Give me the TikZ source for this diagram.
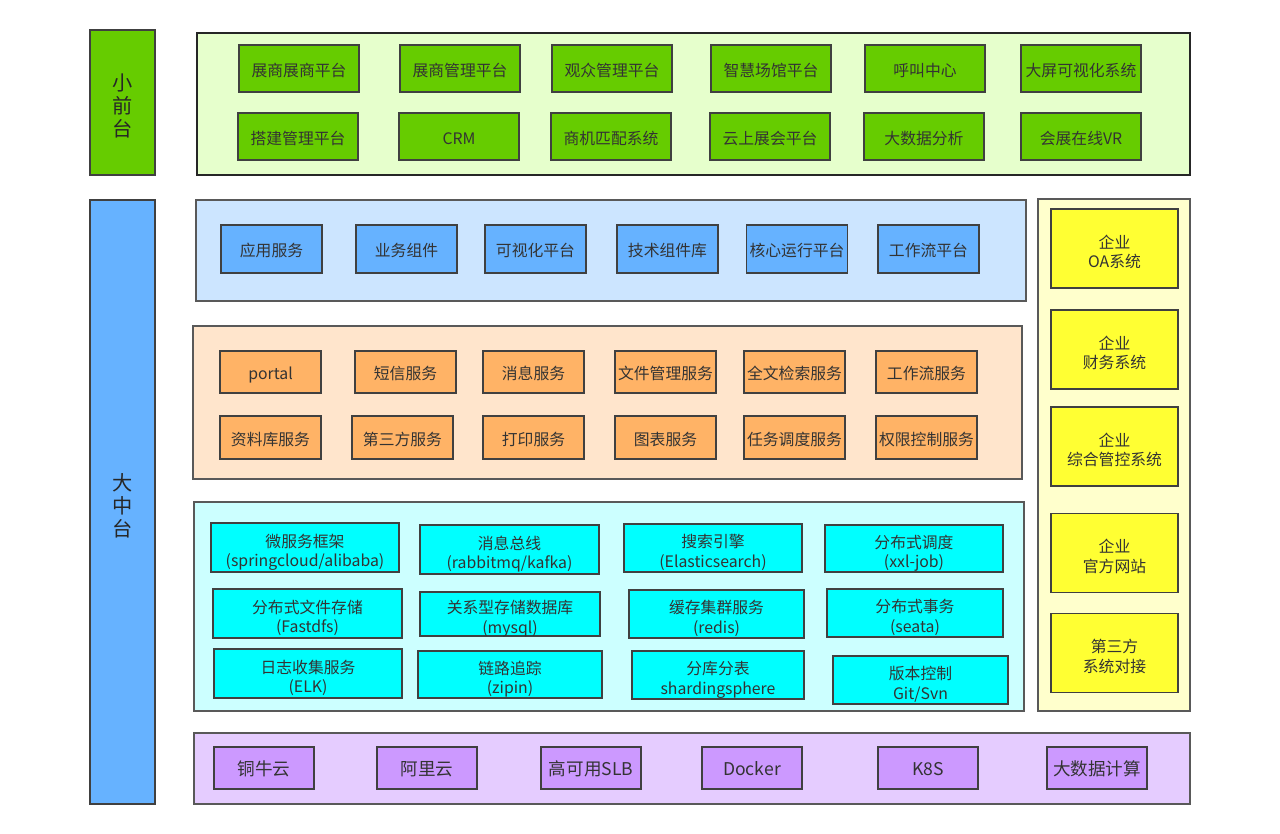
\documentclass[tikz,border=0pt]{standalone}
\usepackage{fontspec}
\setmainfont{Noto Sans CJK SC}
\usetikzlibrary{positioning}

\definecolor{frontgreen}{HTML}{66CC00}
\definecolor{frontbg}{HTML}{E6FFCC}
\definecolor{appblue}{HTML}{66B2FF}
\definecolor{appbg}{HTML}{CCE5FF}
\definecolor{srvorange}{HTML}{FFB366}
\definecolor{srvbg}{HTML}{FFE5CC}
\definecolor{techcyan}{HTML}{00FFFF}
\definecolor{techbg}{HTML}{CCFFFF}
\definecolor{entyellow}{HTML}{FFFF33}
\definecolor{entbg}{HTML}{FFFFCC}
\definecolor{infpurple}{HTML}{CC99FF}
\definecolor{infbg}{HTML}{E5CCFF}
\definecolor{txt}{HTML}{333333}

\begin{document}
\begin{tikzpicture}[
    x=0.02cm, y=-0.02cm,
    panel/.style={draw=black!65, line width=0.9pt},
    sz/.style 2 args={minimum width=#1*0.02cm, minimum height=#2*0.02cm},
    box/.style={draw=black!75, line width=0.9pt, inner sep=0pt, text=txt, align=center, font=\fontsize{9}{11}\selectfont},
    oneline/.style={text height=9pt, text depth=0pt},
    twoline/.style={text height=21.8pt, text depth=0pt},
    sidelabel/.style={draw=black!75, line width=0.9pt, inner sep=0pt, text=black!85, align=center, font=\fontsize{11.5}{13}\selectfont, text height=38.8pt, text depth=0pt},
    frontbox/.style={box, oneline, fill=frontgreen, sz={120}{47}},
    appbox/.style={box, oneline, fill=appblue, sz={101}{48}},
    srvbox/.style={box, oneline, fill=srvorange, sz={101}{42}},
    techbox/.style={box, twoline, fill=techcyan},
    entbox/.style={box, twoline, fill=entyellow, sz={127}{79}},
    infbox/.style={box, oneline, fill=infpurple, sz={100}{42}, font=\fontsize{10}{12}\selectfont}
    ]
    \useasboundingbox (0,0) rectangle (1280,834);

    % side labels
    \node[sidelabel, fill=frontgreen, sz={65}{145}] (front) at (122.5,102.5) {小\\前\\台};
    \node[sidelabel, fill=appblue, sz={65}{604}] (middle) at (122.5,502) {大\\中\\台};

    % layer panels
    \draw[panel, fill=frontbg, line width=1.4pt, draw=black!85] (197,33) rectangle (1190,175);
    \draw[panel, fill=appbg] (196,200) rectangle (1026,301);
    \draw[panel, fill=srvbg] (193,326) rectangle (1022,479);
    \draw[panel, fill=techbg] (194,502) rectangle (1024,711);
    \draw[panel, fill=entbg] (1038,199) rectangle (1190,711);
    \draw[panel, fill=infbg] (194,733) rectangle (1190,804);

    % front platforms
    \foreach \x/\t [count=\i] in {299/展商展商平台, 460/展商管理平台, 612/观众管理平台, 771/智慧场馆平台, 925/呼叫中心, 1081/大屏可视化系统}{
    \node[frontbox] (fa\i) at (\x,68.5) {\t};
    }
    \foreach \x/\t [count=\i] in {298/搭建管理平台, 459/CRM, 611/商机匹配系统, 770/云上展会平台, 924/大数据分析, 1081/会展在线VR}{
    \node[frontbox] (fb\i) at (\x,136.5) {\t};
    }

    % application layer
    \foreach \x/\t [count=\i] in {271.5/应用服务, 406.5/业务组件, 535.5/可视化平台, 667.5/技术组件库, 797/核心运行平台, 928.5/工作流平台}{
    \node[appbox] (app\i) at (\x,249) {\t};
    }

    % common services
    \foreach \x/\t [count=\i] in {270.5/portal, 405.5/短信服务, 533.5/消息服务, 665.5/文件管理服务, 794.5/全文检索服务, 926.5/工作流服务}{
    \node[srvbox] (sa\i) at (\x,372) {\t};
    }
    \foreach \x/\t [count=\i] in {270.5/资料库服务, 402.5/第三方服务, 533.5/打印服务, 665.5/图表服务, 794.5/任务调度服务, 926.5/权限控制服务}{
    \node[srvbox, sz={101}{43}] (sb\i) at (\x,437.5) {\t};
    }

    % technical base
    \node[techbox, sz={188}{49}] (micro) at (305,547.5) {微服务框架\\(springcloud/alibaba)};
    \node[techbox, sz={179}{49}] (mq) at (509.5,549.5) {消息总线\\(rabbitmq/kafka)};
    \node[techbox, sz={178}{48}] (search) at (713,548) {搜索引擎\\(Elasticsearch)};
    \node[techbox, sz={178}{47}] (sched) at (914,548.5) {分布式调度\\(xxl-job)};
    \node[techbox, sz={189}{49}] (dfs) at (307.5,613.5) {分布式文件存储\\(Fastdfs)};
    \node[techbox, sz={180}{44}] (db) at (510,614) {关系型存储数据库\\(mysql)};
    \node[techbox, sz={175}{48}] (cache) at (716.5,614) {缓存集群服务\\(redis)};
    \node[techbox, sz={176}{48}] (tx) at (915,613) {分布式事务\\(seata)};
    \node[techbox, sz={188}{49}] (log) at (308,673.5) {日志收集服务\\(ELK)};
    \node[techbox, sz={184}{47}] (trace) at (510,674.5) {链路追踪\\(zipin)};
    \node[techbox, sz={172}{48}] (shard) at (718,675) {分库分表\\shardingsphere};
    \node[techbox, sz={175}{48}] (vcs) at (920.5,680) {版本控制\\Git/Svn};

    % enterprise systems
    \foreach \y/\t [count=\i] in {248.5/企业\\OA系统, 349.5/企业\\财务系统, 446.5/企业\\综合管控系统, 553/企业\\官方网站, 653/第三方\\系统对接}{
    \node[entbox] (ent\i) at (1114.5,\y) {\t};
    }

    % infrastructure
    \foreach \x/\t [count=\i] in {264/铜牛云, 427/阿里云, 591/高可用SLB, 752/Docker, 928/K8S, 1097/大数据计算}{
    \node[infbox] (inf\i) at (\x,768) {\t};
    }

\end{tikzpicture}
\end{document}
